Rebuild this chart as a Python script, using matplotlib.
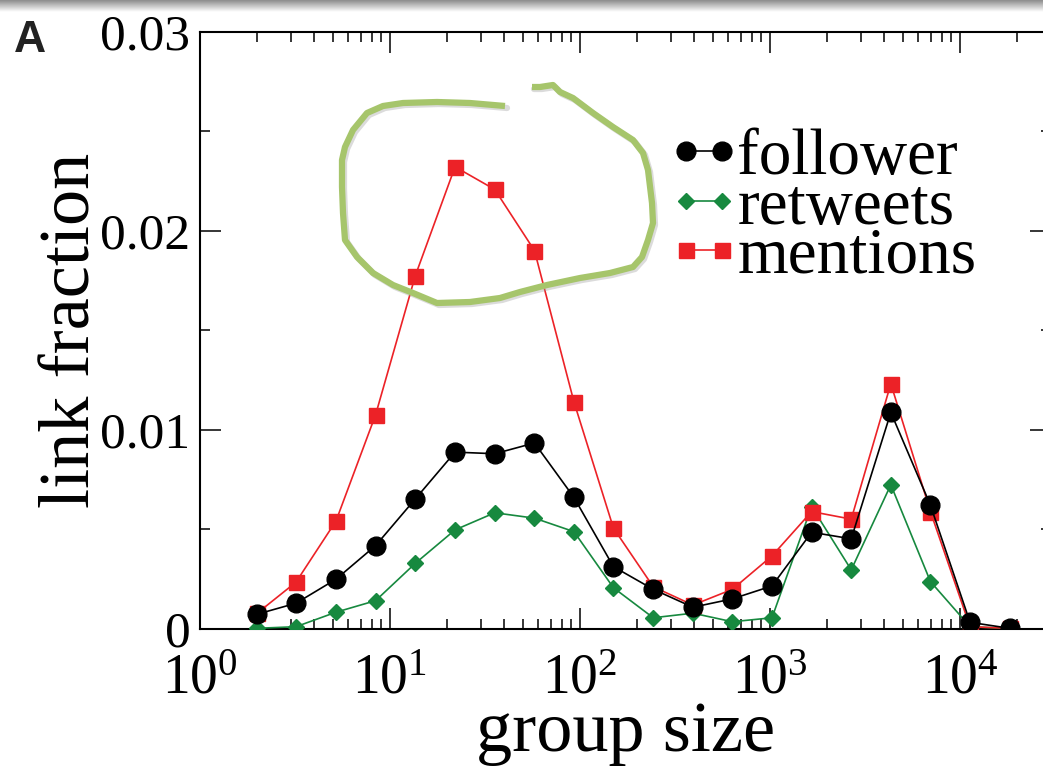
import matplotlib
matplotlib.use("Agg")
import matplotlib.pyplot as plt
import numpy as np
from matplotlib.ticker import FixedLocator, MultipleLocator, LogLocator

plt.rcParams["font.family"] = ["Liberation Serif", "DejaVu Serif"]
plt.rcParams["mathtext.fontset"] = "custom"
plt.rcParams["mathtext.rm"] = "Liberation Serif"
plt.rcParams["mathtext.it"] = "Liberation Serif:italic"
plt.rcParams["mathtext.bf"] = "Liberation Serif:bold"

# logarithmic group-size bins
group_size = [2, 3.2, 5.2, 8.4, 13.6, 22, 35.6, 57.6, 93, 150,
              243, 393, 634, 1025, 1657, 2678, 4327, 6993, 11300, 18260]

follower = [0.00072, 0.00127, 0.00248, 0.00417, 0.00652, 0.00887, 0.00879,
            0.00933, 0.00659, 0.00311, 0.00197, 0.00107, 0.00149, 0.00214,
            0.00484, 0.00451, 0.01087, 0.00620, 0.00031, 0.00001]
retweets = [0.00001, 0.00009, 0.00082, 0.00140, 0.00328, 0.00496, 0.00582,
            0.00555, 0.00487, 0.00205, 0.00054, 0.00077, 0.00034, 0.00054,
            0.00613, 0.00295, 0.00723, 0.00236, 0.00009, 0.00000]
mentions = [0.00077, 0.00233, 0.00541, 0.01075, 0.01775, 0.02322, 0.02208,
            0.01901, 0.01139, 0.00505, 0.00210, 0.00118, 0.00197, 0.00365,
            0.00588, 0.00550, 0.01231, 0.00588, 0.00009, 0.00001]

yticks = [0, 0.01, 0.02, 0.03]
yticklabels = ["0", "0.01", "0.02", "0.03"]

RED = "#ec2227"
GREEN = "#17893f"
LOOP = "#a6c56b"

W, H = 1043, 766
fig = plt.figure(figsize=(W / 100, H / 100), dpi=100)

# gray shading strip along the top edge
bar = fig.add_axes([0, 1 - 12 / H, 1, 12 / H])
grad = np.linspace(0.55, 1.0, 50)[:, None]
bar.imshow(grad, aspect="auto", cmap="gray", vmin=0, vmax=1)
bar.axis("off")

ax = fig.add_axes([200 / W, 1 - 628.5 / H, 850.6 / W, 596.5 / H])
ax.set_xscale("log")

g, = ax.plot(group_size, retweets, "-", color=GREEN, lw=1.2, marker="D",
             ms=8.5, mec=GREEN, mfc=GREEN, zorder=3)
r, = ax.plot(group_size, mentions, "-", color=RED, lw=1.2, marker="s",
             ms=10.8, mec=RED, mfc=RED, zorder=4)
b, = ax.plot(group_size, follower, "-", color="black", lw=1.2, marker="o",
             ms=13.5, mec="black", mfc="black", zorder=5)

ax.set_xlim(1, 3e4)
ax.set_ylim(0, 0.03)
ax.yaxis.set_major_locator(FixedLocator(yticks))
ax.set_yticklabels(yticklabels)
ax.yaxis.set_minor_locator(MultipleLocator(0.005))
ax.xaxis.set_major_locator(LogLocator(base=10, numticks=10))
ax.xaxis.set_minor_locator(LogLocator(base=10, subs=np.arange(2, 10), numticks=20))

ax.tick_params(which="both", direction="in", top=True, right=True, width=1.1)
ax.tick_params(which="major", length=15)
ax.tick_params(which="minor", length=7)
ax.tick_params(axis="y", which="major", labelsize=37, pad=7)
ax.tick_params(axis="x", which="major", labelsize=40, pad=18)
for s in ax.spines.values():
    s.set_linewidth(1.5)

ax.set_xlabel("group size", fontsize=52, labelpad=-3)
ax.set_ylabel("link fraction", fontsize=52, labelpad=-3)

leg = ax.legend([b, g, r], ["follower", "retweets", "mentions"],
                loc="upper left", bbox_to_anchor=(0.548, 0.838),
                frameon=False, fontsize=47, handlelength=1.15,
                handletextpad=-0.06, labelspacing=-0.16, borderpad=0,
                borderaxespad=0, numpoints=2)

# hand-drawn highlight around the mentions peak (figure pixel coords)
loop_px = [
    (505, 106), (470, 103), (437, 102), (403, 103), (383, 106), (367, 113),
    (353, 130), (345, 147), (342, 160), (342, 187), (343, 213), (345, 240),
    (357, 257), (373, 273), (393, 285), (413, 293), (437, 303), (470, 302),
    (500, 298), (520, 292), (547, 285), (580, 278), (610, 273), (633, 267),
    (642, 257), (648, 240), (653, 223), (652, 203), (648, 170), (643, 153),
    (633, 140), (613, 127), (593, 113), (573, 98), (560, 92), (553, 85),
    (540, 87), (532, 87),
]
lx = np.array([p[0] for p in loop_px]) / W
ly = 1 - np.array([p[1] for p in loop_px]) / H
fig.add_artist(plt.Line2D(lx + 2 / W, ly - 2 / H, color="0.6", lw=4.5,
                          alpha=0.35, solid_capstyle="round",
                          solid_joinstyle="round", transform=fig.transFigure))
fig.add_artist(plt.Line2D(lx, ly, color=LOOP, lw=4.5,
                          solid_capstyle="butt", solid_joinstyle="round",
                          transform=fig.transFigure))

fig.text(14 / W, 1 - 52 / H, "A", fontsize=32, fontweight="bold",
         family="Liberation Sans", color="#222222", va="baseline")

fig.savefig("out.png", dpi=100)
